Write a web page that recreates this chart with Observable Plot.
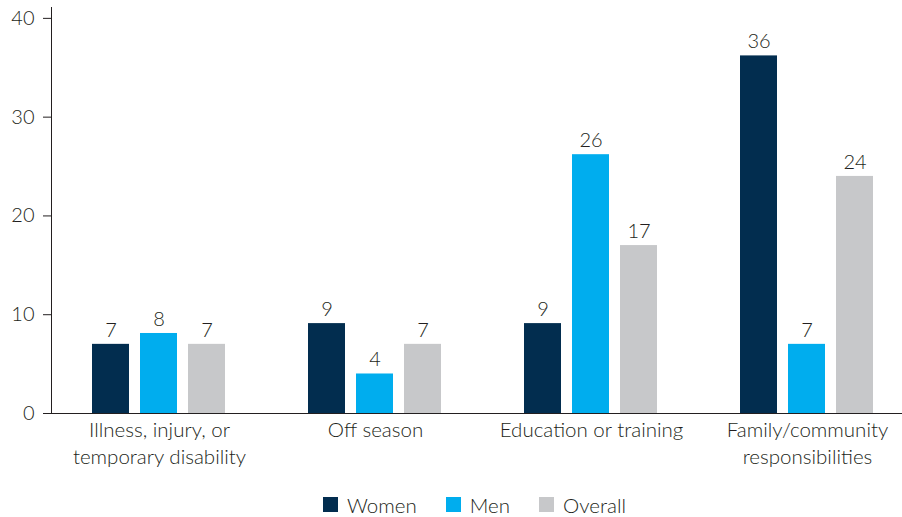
<!DOCTYPE html>
<html>
<head>
<meta charset="utf-8">
<script src="https://cdn.jsdelivr.net/npm/d3@7"></script>
<script src="https://cdn.jsdelivr.net/npm/@observablehq/plot@0.6"></script>
<style>
  html, body { margin: 0; padding: 0; background: #fff; }
  body { width: 902px; height: 517px; overflow: hidden; font-family: Lato, sans-serif; }
  #legend { display: flex; justify-content: center; margin-top: 8px; padding-left: 76px; }
  .lg-swatches { font-family: Lato, sans-serif !important; font-size: 20.5px !important; font-weight: 300; color: #231f20; margin: 0 !important; }
  .lg-swatch { margin-right: 29px !important; }
  .lg-swatch svg { margin-right: 9px !important; }
</style>
</head>
<body>
<div id="chart"></div>
<div id="legend"></div>
<script>
const groups = [
  "Illness, injury, or\ntemporary disability",
  "Off season",
  "Education or training",
  "Family/community\nresponsibilities"
];
const series = ["Women", "Men", "Overall"];
const colors = ["#022d4f", "#00adee", "#c7c8ca"];
const women = [7.0, 9.1, 9.1, 36.2];
const men = [8.1, 4.0, 26.2, 7.0];
const overall = [7.0, 7.0, 17.0, 24.0];
const yTicks = [0, 10, 20, 30, 40];

const valuesBySeries = [women, men, overall];
const data = [];
groups.forEach((g, i) => {
  series.forEach((s, j) => {
    data.push({group: g, series: s, value: valuesBySeries[j][i]});
  });
});

const chart = Plot.plot({
  width: 902,
  height: 480,
  marginLeft: 51,
  marginRight: -13.2,
  marginTop: 7,
  marginBottom: 67,
  style: {fontFamily: "Lato, sans-serif", fontSize: "20px", fontWeight: 300, color: "#231f20", background: "#fff"},
  fx: {domain: groups, padding: 0, label: null},
  x: {domain: series, paddingInner: 0.222, paddingOuter: 0.861, axis: null},
  y: {domain: [0, 41.1]},
  color: {domain: series, range: colors},
  marks: [
    Plot.frame({anchor: "left", facetAnchor: "left", stroke: "#231f20"}),
    Plot.axisY({ticks: yTicks, tickSize: 8, tickPadding: 9, label: null, stroke: "#231f20", fontSize: 20}),
    Plot.axisFx({tickSize: 0, tickPadding: 5, lineHeight: 1.3, label: null, anchor: "bottom", fontSize: 20.5}),
    Plot.barY(data, {fx: "group", x: "series", y: "value", fill: "series"}),
    Plot.ruleY([0], {stroke: "#231f20"}),
    Plot.text(data, {fx: "group", x: "series", y: "value", text: d => d3.format(".0f")(d.value), dy: -14, fill: "#231f20", fontSize: 20})
  ]
});
document.getElementById("chart").appendChild(chart);

const legend = Plot.legend({
  color: {domain: series, range: colors},
  swatchSize: 15,
  className: "lg"
});
document.getElementById("legend").appendChild(legend);
</script>
</body>
</html>
